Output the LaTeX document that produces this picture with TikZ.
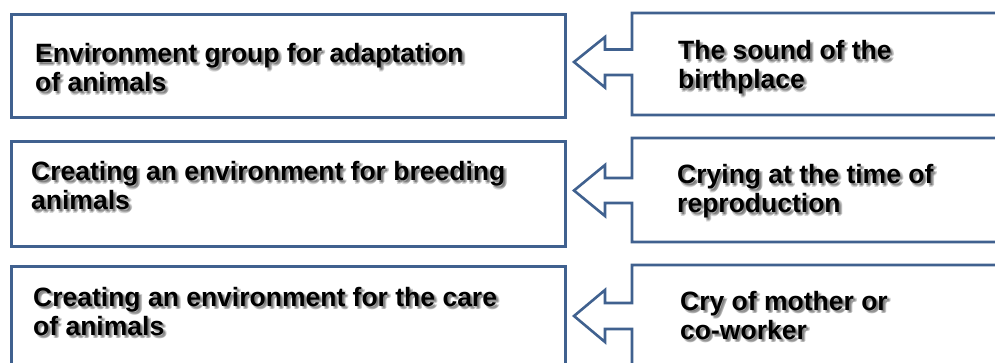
\documentclass[tikz,border=0pt]{standalone}
\usepackage{fontspec}
\setmainfont{Liberation Sans}
\definecolor{boxblue}{HTML}{40618F}
\tikzset{
  lbox/.style={draw=boxblue, line width=2.6pt, fill=white, rectangle, inner sep=0pt, anchor=north west},
  callout/.style={draw=boxblue, line width=2.6pt, fill=white, line join=miter},
  txt/.style={anchor=base west, inner sep=0pt, font=\bfseries\fontsize{26.5}{29}\selectfont, text=black},
  shd/.style={txt, text=black, opacity=0.16},
}
\newcommand{\para}[1]{\parbox[t]{520pt}{\raggedright #1}}
\newcommand{\shtext}[3]{%
  \foreach \dx/\dy [count=\k] in {1.5/1.5,3.5/2,2/3.5,3/3}{
    \node[shd] (#1-s\k) at ([shift={(\dx pt,-\dy pt)}]#2) {\para{#3}};
  }
  \node[txt] (#1) at (#2) {\para{#3}};
}
\begin{document}
\begin{tikzpicture}[x=1pt,y=-1pt]
\path[use as bounding box] (0,0) rectangle (995,363);
\clip (0,0) rectangle (995,363);
\fill[white] (0,0) rectangle (995,363);
% left boxes
\node[lbox, minimum width=554pt, minimum height=103pt] (L1) at (10,13) {};
\node[lbox, minimum width=554pt, minimum height=105pt] (L2) at (10,140) {};
\node[lbox, minimum width=554pt, minimum height=140pt] (L3) at (10,265) {};
% right callout boxes
\draw[callout] (1010,13) -- (632,13) -- (632,49.5) -- (605,49.5) -- (605,37) -- (574,62)
  -- (605,87.5) -- (605,75) -- (632,75) -- (632,115) -- (1010,115);
\draw[callout] (1010,138) -- (632,138) -- (632,178) -- (605,178) -- (605,165) -- (574,190.5)
  -- (605,216) -- (605,203) -- (632,203) -- (632,242) -- (1010,242);
\draw[callout] (1010,265) -- (632,265) -- (632,303) -- (605,303) -- (605,290) -- (574,316)
  -- (605,342) -- (605,329) -- (632,329) -- (632,420) -- (1010,420);
% texts
\shtext{t1}{35,63}{Environment group for adaptation\\of animals}
\shtext{t2}{31,181}{Creating an environment for breeding\\animals}
\shtext{t3}{33,306}{Creating an environment for the care\\of animals}
\shtext{r1}{678,60}{The sound of the\\birthplace}
\shtext{r2}{677,184}{Crying at the time of\\reproduction}
\shtext{r3}{680,310}{Cry of mother or\\co-worker}
\end{tikzpicture}
\end{document}
